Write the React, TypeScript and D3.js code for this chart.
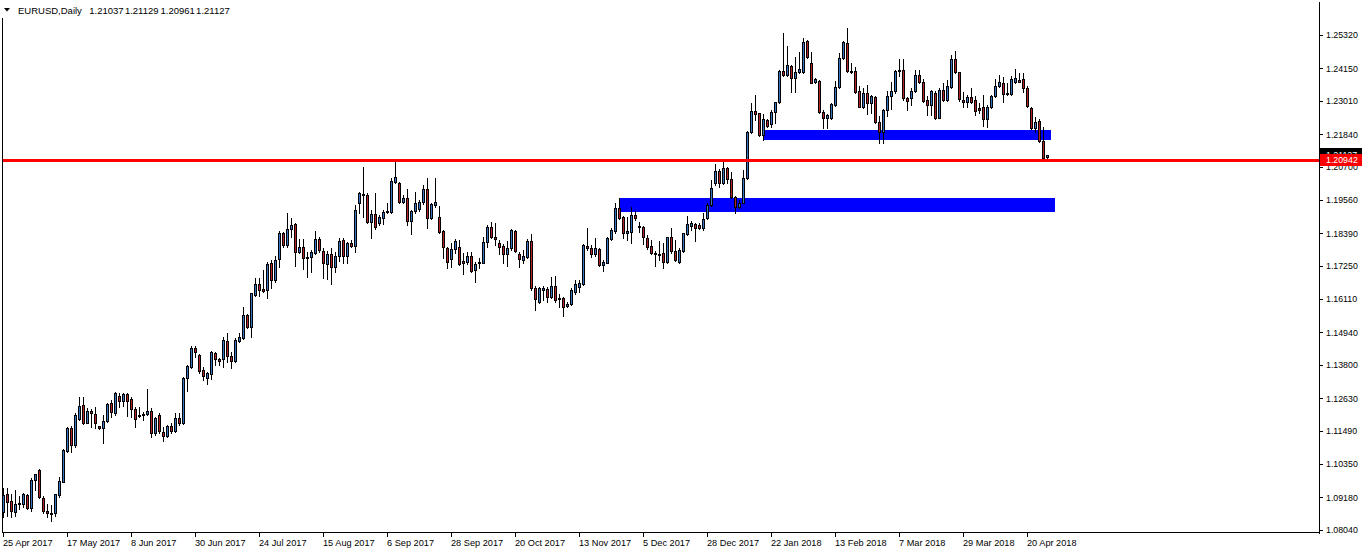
import React from "react";
import * as d3 from "d3";

// ---- data (EURUSD Daily, 25 Apr 2017 .. 27 Apr 2018) ----
const OPEN = [
1.0868,1.0929,1.0904,1.0867,1.0896,1.0896,1.0926,1.0881,1.0980,1.1015,1.0917,1.0870,1.0860,1.0862,1.0927,1.0973,
1.1079,1.1161,1.1100,1.1192,1.1240,1.1178,1.1219,1.1209,1.1167,1.1161,1.1185,1.1246,1.1211,1.1273,1.1253,1.1278,
1.1260,1.1227,1.1205,1.1204,1.1207,1.1219,1.1141,1.1205,1.1147,1.1132,1.1167,1.1149,1.1196,1.1178,1.1333,1.1374,
1.1440,1.1414,1.1362,1.1335,1.1347,1.1423,1.1399,1.1399,1.1463,1.1411,1.1395,1.1464,1.1473,1.1554,1.1511,1.1624,
1.1661,1.1644,1.1641,1.1734,1.1676,1.1748,1.1839,1.1798,1.1853,1.1871,1.1773,1.1790,1.1757,1.1755,1.1771,1.1819,
1.1777,1.1732,1.1766,1.1720,1.1760,1.1816,1.1760,1.1807,1.1796,1.1944,1.1973,1.1973,1.1880,1.1905,1.1876,1.1891,
1.1914,1.1914,1.2019,1.2013,1.1949,1.1963,1.1882,1.1917,1.1923,1.1947,1.1992,1.1891,1.1937,1.1895,1.1847,1.1787,
1.1748,1.1783,1.1792,1.1742,1.1740,1.1760,1.1711,1.1734,1.1737,1.1808,1.1860,1.1825,1.1806,1.1796,1.1766,1.1787,
1.1847,1.1766,1.1746,1.1757,1.1812,1.1650,1.1600,1.1641,1.1644,1.1618,1.1655,1.1612,1.1612,1.1587,1.1592,1.1635,
1.1653,1.1662,1.1795,1.1787,1.1766,1.1784,1.1728,1.1737,1.1818,1.1847,1.1926,1.1895,1.1839,1.1845,1.1903,1.1864,
1.1860,1.1821,1.1795,1.1769,1.1767,1.1769,1.1738,1.1825,1.1777,1.1740,1.1778,1.1837,1.1866,1.1870,1.1868,1.1856,
1.1891,1.1938,1.2013,1.2057,1.2013,1.2066,1.2027,1.1967,1.1932,1.1946,1.2031,1.2194,1.2266,1.2258,1.2182,1.2234,
1.2222,1.2261,1.2296,1.2405,1.2391,1.2423,1.2380,1.2401,1.2403,1.2509,1.2432,1.2368,1.2370,1.2261,1.2243,1.2243,
1.2285,1.2351,1.2452,1.2503,1.2405,1.2405,1.2336,1.2281,1.2330,1.2295,1.2313,1.2229,1.2193,1.2268,1.2317,1.2337,
1.2405,1.2410,1.2310,1.2310,1.2336,1.2391,1.2367,1.2305,1.2287,1.2330,1.2243,1.2339,1.2304,1.2348,1.2446,1.2401,
1.2304,1.2298,1.2316,1.2304,1.2275,1.2279,1.2237,1.2279,1.2317,1.2353,1.2362,1.2325,1.2325,1.2366,1.2374,1.2376,
1.2345,1.2275,1.2205,1.2231,1.2161,1.21037
];
const HIGH = [
1.0949,1.0949,1.0931,1.0943,1.0922,1.0934,1.0928,1.0984,1.1001,1.1017,1.0922,1.0896,1.0890,1.0931,1.0990,1.1085,
1.1164,1.1167,1.1211,1.1267,1.1267,1.1228,1.1225,1.1234,1.1168,1.1205,1.1246,1.1257,1.1284,1.1281,1.1283,1.1281,
1.1267,1.1234,1.1234,1.1217,1.1296,1.1228,1.1199,1.1211,1.1164,1.1170,1.1176,1.1211,1.1211,1.1339,1.1380,1.1446,
1.1446,1.1418,1.1374,1.1356,1.1428,1.1426,1.1403,1.1478,1.1490,1.1426,1.1473,1.1490,1.1583,1.1557,1.1632,1.1682,
1.1682,1.1711,1.1740,1.1746,1.1760,1.1846,1.1845,1.1909,1.1891,1.1874,1.1818,1.1818,1.1775,1.1781,1.1848,1.1825,
1.1787,1.1778,1.1787,1.1775,1.1824,1.1822,1.1810,1.1816,1.1938,1.1984,1.2069,1.1978,1.1920,1.1978,1.1903,1.1920,
1.1946,1.2031,1.2089,1.2019,1.1973,1.1992,1.1920,1.1984,1.1955,1.2007,1.2031,1.1944,1.2031,1.1934,1.1850,1.1792,
1.1806,1.1818,1.1816,1.1771,1.1775,1.1775,1.1740,1.1754,1.1825,1.1868,1.1880,1.1874,1.1816,1.1801,1.1813,1.1854,
1.1850,1.1775,1.1781,1.1818,1.1835,1.1655,1.1653,1.1655,1.1653,1.1685,1.1690,1.1629,1.1618,1.1600,1.1647,1.1676,
1.1676,1.1802,1.1859,1.1798,1.1824,1.1787,1.1746,1.1827,1.1856,1.1946,1.1961,1.1899,1.1895,1.1930,1.1918,1.1880,
1.1864,1.1833,1.1816,1.1777,1.1813,1.1804,1.1827,1.1859,1.1816,1.1787,1.1841,1.1899,1.1882,1.1874,1.1876,1.1909,
1.1944,1.2025,1.2081,1.2062,1.2089,1.2072,1.2052,1.1970,1.1955,1.2060,1.2196,1.2295,1.2322,1.2260,1.2255,1.2237,
1.2269,1.2298,1.2409,1.2539,1.2493,1.2426,1.2455,1.2473,1.2519,1.2513,1.2473,1.2380,1.2374,1.2269,1.2254,1.2292,
1.2370,1.2467,1.2509,1.2554,1.2432,1.2420,1.2353,1.2345,1.2356,1.2322,1.2318,1.2250,1.2273,1.2335,1.2366,1.2410,
1.2446,1.2446,1.2316,1.2345,1.2409,1.2409,1.2376,1.2318,1.2339,1.2337,1.2345,1.2362,1.2374,1.2461,1.2475,1.2403,
1.2333,1.2322,1.2345,1.2318,1.2295,1.2322,1.2287,1.2322,1.2376,1.2393,1.2386,1.2362,1.2388,1.2411,1.2397,1.2400,
1.2353,1.2279,1.2246,1.2237,1.2211,1.21129
];
const LOW = [
1.0848,1.0852,1.0850,1.0852,1.0879,1.0885,1.0879,1.0871,1.0943,1.0914,1.0862,1.0850,1.0836,1.0852,1.0920,1.0970,
1.1077,1.1077,1.1095,1.1188,1.1174,1.1176,1.1164,1.1159,1.1157,1.1106,1.1182,1.1199,1.1205,1.1234,1.1236,1.1203,
1.1199,1.1164,1.1199,1.1188,1.1205,1.1129,1.1135,1.1141,1.1116,1.1127,1.1141,1.1147,1.1170,1.1174,1.1290,1.1368,
1.1409,1.1350,1.1327,1.1312,1.1330,1.1380,1.1380,1.1374,1.1391,1.1368,1.1390,1.1461,1.1469,1.1510,1.1476,1.1620,
1.1621,1.1635,1.1612,1.1650,1.1670,1.1720,1.1792,1.1792,1.1827,1.1726,1.1769,1.1713,1.1688,1.1705,1.1767,1.1775,
1.1684,1.1678,1.1661,1.1705,1.1742,1.1737,1.1737,1.1792,1.1773,1.1909,1.1897,1.1876,1.1821,1.1855,1.1868,1.1872,
1.1911,1.1911,1.2013,1.1944,1.1944,1.1868,1.1835,1.1911,1.1918,1.1941,1.1859,1.1888,1.1932,1.1839,1.1754,1.1717,
1.1720,1.1769,1.1728,1.1696,1.1732,1.1703,1.1668,1.1719,1.1734,1.1792,1.1821,1.1798,1.1766,1.1734,1.1726,1.1781,
1.1775,1.1723,1.1734,1.1752,1.1641,1.1571,1.1595,1.1606,1.1600,1.1612,1.1600,1.1583,1.1552,1.1583,1.1589,1.1629,
1.1635,1.1659,1.1781,1.1757,1.1760,1.1725,1.1707,1.1734,1.1816,1.1841,1.1889,1.1821,1.1816,1.1806,1.1885,1.1845,
1.1802,1.1783,1.1767,1.1725,1.1746,1.1717,1.1734,1.1769,1.1744,1.1734,1.1775,1.1833,1.1850,1.1813,1.1853,1.1850,
1.1889,1.1934,1.2007,1.1999,1.2011,1.2013,1.1961,1.1911,1.1926,1.1944,1.2027,1.2190,1.2234,1.2179,1.2165,1.2211,
1.2211,1.2223,1.2293,1.2389,1.2389,1.2333,1.2333,1.2397,1.2400,1.2450,1.2362,1.2365,1.2260,1.2208,1.2205,1.2238,
1.2283,1.2347,1.2446,1.2403,1.2397,1.2330,1.2279,1.2275,1.2255,1.2260,1.2225,1.2155,1.2154,1.2250,1.2273,1.2330,
1.2387,1.2305,1.2269,1.2287,1.2333,1.2362,1.2298,1.2252,1.2252,1.2237,1.2240,1.2301,1.2302,1.2345,1.2397,1.2301,
1.2281,1.2281,1.2292,1.2252,1.2260,1.2213,1.2211,1.2275,1.2315,1.2351,1.2296,1.2322,1.2322,1.2362,1.2368,1.2333,
1.2281,1.2202,1.2194,1.2159,1.2098,1.20961
];
const CLOSE = [
1.0926,1.0902,1.0871,1.0893,1.0899,1.0931,1.0881,1.0980,1.0998,1.0920,1.0871,1.0865,1.0865,1.0929,1.0974,1.1083,
1.1161,1.1100,1.1205,1.1236,1.1178,1.1219,1.1211,1.1178,1.1161,1.1184,1.1243,1.1217,1.1282,1.1253,1.1277,1.1255,
1.1225,1.1193,1.1202,1.1207,1.1219,1.1143,1.1196,1.1149,1.1133,1.1167,1.1149,1.1196,1.1178,1.1335,1.1376,1.1440,
1.1424,1.1359,1.1343,1.1350,1.1424,1.1399,1.1395,1.1467,1.1411,1.1395,1.1467,1.1476,1.1554,1.1513,1.1630,1.1661,
1.1641,1.1639,1.1732,1.1676,1.1746,1.1841,1.1800,1.1853,1.1868,1.1773,1.1792,1.1752,1.1752,1.1773,1.1819,1.1781,
1.1734,1.1766,1.1720,1.1760,1.1812,1.1760,1.1804,1.1796,1.1920,1.1978,1.1976,1.1880,1.1905,1.1860,1.1895,1.1912,
1.1918,1.2021,1.2034,1.1949,1.1964,1.1883,1.1917,1.1946,1.1949,1.1992,1.1891,1.1940,1.1947,1.1845,1.1790,1.1740,
1.1783,1.1812,1.1731,1.1734,1.1760,1.1707,1.1731,1.1738,1.1808,1.1860,1.1827,1.1818,1.1792,1.1766,1.1787,1.1850,
1.1777,1.1748,1.1760,1.1812,1.1650,1.1609,1.1647,1.1647,1.1618,1.1655,1.1606,1.1609,1.1583,1.1592,1.1641,1.1662,
1.1667,1.1798,1.1787,1.1766,1.1787,1.1728,1.1738,1.1824,1.1850,1.1926,1.1893,1.1839,1.1847,1.1903,1.1893,1.1860,
1.1825,1.1792,1.1769,1.1766,1.1763,1.1740,1.1825,1.1777,1.1746,1.1781,1.1839,1.1870,1.1874,1.1859,1.1856,1.1888,
1.1938,1.1998,1.2056,1.2013,1.2066,1.2027,1.1965,1.1932,1.1946,1.2031,1.2194,1.2266,1.2255,1.2182,1.2237,1.2213,
1.2262,1.2296,1.2405,1.2391,1.2426,1.2380,1.2401,1.2411,1.2505,1.2453,1.2365,1.2376,1.2263,1.2243,1.2252,1.2290,
1.2348,1.2450,1.2505,1.2406,1.2401,1.2333,1.2281,1.2330,1.2295,1.2318,1.2229,1.2193,1.2268,1.2317,1.2337,1.2405,
1.2410,1.2310,1.2302,1.2336,1.2391,1.2366,1.2302,1.2287,1.2336,1.2240,1.2339,1.2304,1.2353,1.2446,1.2401,1.2307,
1.2298,1.2313,1.2298,1.2267,1.2269,1.2237,1.2279,1.2319,1.2353,1.2366,1.2324,1.2330,1.2376,1.2380,1.2368,1.2345,
1.2284,1.2205,1.2229,1.2161,1.2101,1.21127
];

const DATE_LABELS = [
  "25 Apr 2017", "17 May 2017", "8 Jun 2017", "30 Jun 2017", "24 Jul 2017", "15 Aug 2017",
  "6 Sep 2017", "28 Sep 2017", "20 Oct 2017", "13 Nov 2017", "5 Dec 2017", "28 Dec 2017",
  "22 Jan 2018", "13 Feb 2018", "7 Mar 2018", "29 Mar 2018", "20 Apr 2018",
];
const DATE_LABEL_BARS = [0, 16, 32, 48, 64, 80, 96, 112, 128, 144, 160, 176, 192, 208, 224, 240, 256];

const PRICE_TICKS = [
  "1.25320", "1.24150", "1.23010", "1.21840", "1.20700", "1.19560", "1.18390", "1.17250",
  "1.16110", "1.14940", "1.13800", "1.12630", "1.11490", "1.10350", "1.09180", "1.08040",
];

// support / resistance zones (bar index range, price range)
const ZONE_START = [154, 190];
const ZONE_END = [263, 262];
const ZONE_HIGH = [1.1963, 1.2199];
const ZONE_LOW = [1.1913, 1.2164];

const HLINE_PRICE = 1.20942;
const BID_PRICE = 1.21127;
const TITLE_VALUES = ["1.21037", "1.21129", "1.20961", "1.21127"];

const BULL = "#3673c2";
const BEAR = "#b52327";
const FONT = "'Liberation Sans', Arial, sans-serif";

export default function App() {
  const W = 1362;
  const H = 554;
  const plotRight = 1319;
  const plotBottom = 533;

  const x = d3.scaleLinear().domain([0, 1]).range([3, 7]);
  const y = d3.scaleLinear().domain([1.0804, 1.2532]).range([530, 34.7]);
  const ry = (v: number) => Math.round(y(v));

  const candles = OPEN.map((o, i) => {
    const c = CLOSE[i];
    const cx = Math.round(x(i));
    const top = ry(Math.max(o, c));
    const bot = ry(Math.min(o, c));
    const hi = ry(HIGH[i]);
    const lo = ry(LOW[i]);
    const col = c >= o ? BULL : BEAR;
    return (
      <g key={i}>
        <rect x={cx} y={hi} width={1} height={lo - hi + 1} fill="#000" />
        <rect x={cx - 1} y={top} width={3} height={bot - top + 1} fill="#000" />
        {bot - top > 1 && (
          <rect x={cx} y={top + 1} width={1} height={bot - top - 1} fill={col} />
        )}
      </g>
    );
  });

  const lineY = y(HLINE_PRICE);
  const bidY = y(BID_PRICE);

  return (
    <svg
      width={W}
      height={H}
      style={{ position: "absolute", left: 0, top: 0, background: "#fff" }}
      shapeRendering="crispEdges"
    >
      <rect x={0} y={0} width={W} height={H} fill="#fff" />

      {/* zones (background) */}
      {ZONE_START.map((s, i) => (
        <rect
          key={"z" + i}
          x={x(s)}
          y={y(ZONE_HIGH[i])}
          width={x(ZONE_END[i]) - x(s)}
          height={y(ZONE_LOW[i]) - y(ZONE_HIGH[i])}
          fill="#0000ff"
        />
      ))}

      {candles}

      {/* horizontal red line */}
      <rect x={2} y={lineY - 1.5} width={plotRight - 2} height={3} fill="#ff0000" />

      {/* frame */}
      <rect x={2} y={18} width={1} height={plotBottom - 18} fill="#000" />
      <rect x={plotRight} y={2} width={1} height={plotBottom - 1} fill="#000" />
      <rect x={2} y={plotBottom - 1} width={plotRight - 1} height={1} fill="#000" />

      {/* price axis */}
      {PRICE_TICKS.map((t) => {
        const ty = y(+t);
        return (
          <g key={t}>
            <rect x={plotRight + 1} y={Math.round(ty)} width={3} height={1} fill="#000" />
            <text
              x={1326}
              y={ty + 3.3}
              fontFamily={FONT}
              fontSize={8.8}
              fill="#000"
              shapeRendering="auto"
            >
              {t}
            </text>
          </g>
        );
      })}

      {/* bid label (black) and line label (red) */}
      <rect x={1320} y={bidY - 7} width={42} height={11} fill="#000" />
      <text x={1326} y={bidY + 3} fontFamily={FONT} fontSize={8.8} fill="#fff">
        {BID_PRICE.toFixed(5)}
      </text>
      <rect x={1320} y={lineY - 6.5} width={42} height={12} fill="#ff0000" />
      <text x={1326} y={lineY + 3.2} fontFamily={FONT} fontSize={8.8} fill="#fff">
        {HLINE_PRICE.toFixed(5)}
      </text>

      {/* time axis */}
      {DATE_LABELS.map((d, i) => {
        const tx = Math.round(x(DATE_LABEL_BARS[i]));
        return (
          <g key={d}>
            <rect x={tx} y={plotBottom} width={1} height={4} fill="#000" />
            <text x={tx} y={546} fontFamily={FONT} fontSize={9.2} fill="#000">
              {d}
            </text>
          </g>
        );
      })}

      {/* title */}
      <polygon points="4,8 10,8 7,11.5" fill="#000" shapeRendering="auto" />
      <text x={18} y={14} fontFamily={FONT} fontSize={9.5} fill="#000">
        EURUSD,Daily
      </text>
      {TITLE_VALUES.map((v, i) => (
        <text key={v + i} x={89.3 + i * 35.6} y={14} fontFamily={FONT} fontSize={9.5} fill="#000">
          {v}
        </text>
      ))}
    </svg>
  );
}
